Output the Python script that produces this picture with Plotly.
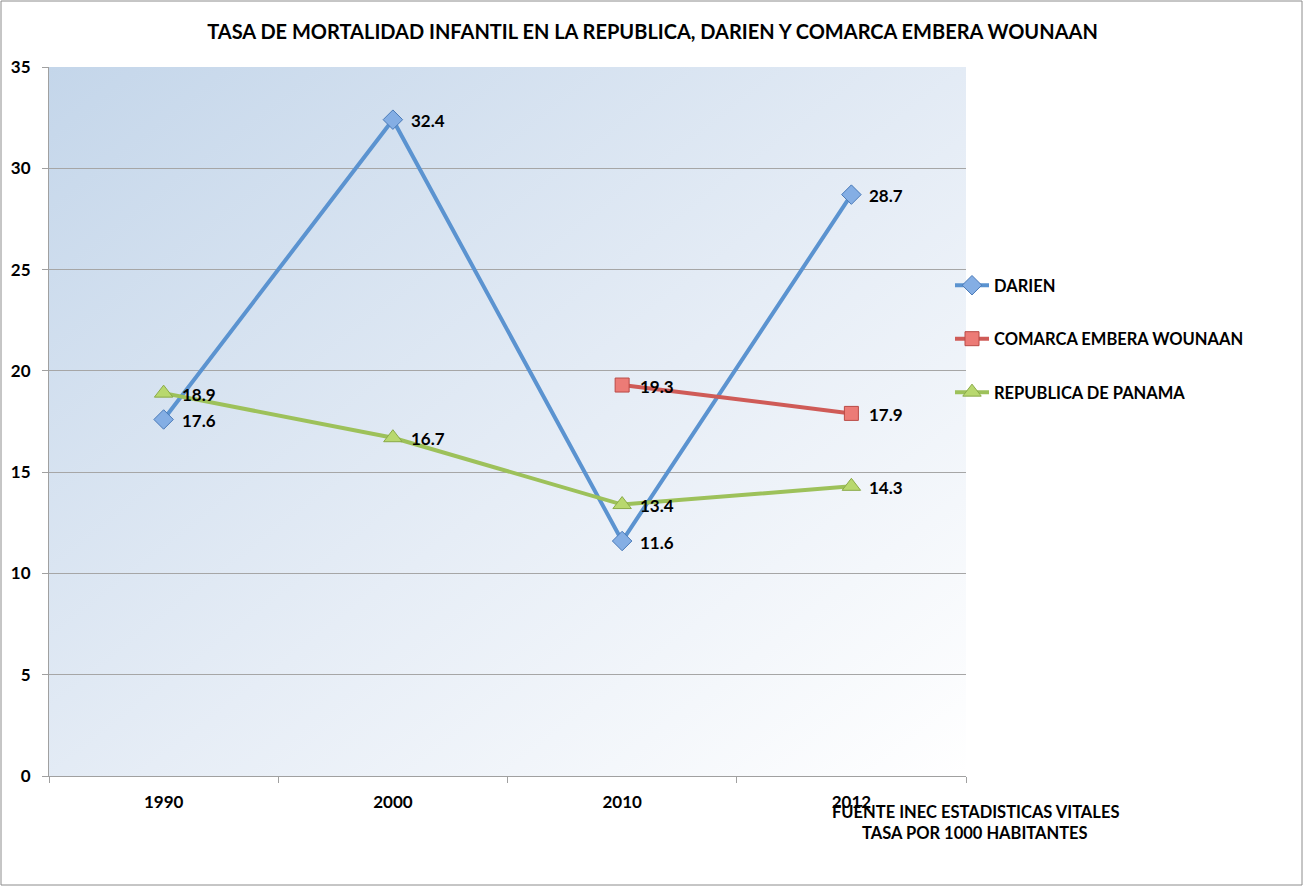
import plotly.graph_objects as go
import urllib.parse

years = ["1990", "2000", "2010", "2012"]
darien = [17.6, 32.4, 11.6, 28.7]
comarca = [None, None, 19.3, 17.9]
republica = [18.9, 16.7, 13.4, 14.3]
y_ticks = [0, 5, 10, 15, 20, 25, 30, 35]

FONT = "Lato, 'Open Sans', sans-serif"

fig = go.Figure()
series = [
    ("DARIEN", darien, "#5b93d0", "diamond", 15, "#84aee4", "#4a7ab8", "a"),
    ("COMARCA EMBERA WOUNAAN", comarca, "#cf5b57", "square", 14, "#ec7b76", "#b94a46", "b"),
    ("REPUBLICA DE PANAMA", republica, "#9dc15a", "triangle-up", 16, "#b8d86e", "#8aaa48", "c"),
]
annotations = []
for name, vals, lc, sym, ms, fc, bc, grp in series:
    fig.add_trace(go.Scatter(
        x=years, y=vals, name=name, mode="lines+markers",
        line=dict(color=lc, width=4),
        marker=dict(symbol=sym, size=ms, color=fc, line=dict(color=bc, width=1)),
        legendgroup=grp, connectgaps=False,
    ))
    for i, yv in enumerate(vals):
        if yv is None:
            continue
        annotations.append(dict(
            x=i, y=yv, xref="x", yref="y", text=f"<b>{yv:.1f}</b>", showarrow=False,
            xanchor="left", yanchor="middle", xshift=16, yshift=-1,
            font=dict(family=FONT, size=17, color="#000000"),
        ))

svg = ('<svg xmlns="http://www.w3.org/2000/svg" width="100" height="100" preserveAspectRatio="none">'
       '<defs><linearGradient id="g" x1="0" y1="0" x2="1" y2="1">'
       '<stop offset="0" stop-color="#c4d6ea"/><stop offset="0.55" stop-color="#e6edf6"/>'
       '<stop offset="1" stop-color="#ffffff"/></linearGradient></defs>'
       '<rect width="100" height="100" fill="url(#g)"/></svg>')
src = "data:image/svg+xml;charset=utf-8," + urllib.parse.quote(svg)

L, R, T, B = 49, 966, 67, 776
W, H = R - L, B - T
def px(x): return (x - L) / W
def py(y): return (B - y) / H

annotations += [
    dict(text="<b>FUENTE INEC ESTADISTICAS VITALES</b>", xref="paper", yref="paper",
         x=px(975), y=py(812), xanchor="center", yanchor="middle", showarrow=False,
         font=dict(family=FONT, size=16.5, color="#000000")),
    dict(text="<b>TASA POR 1000 HABITANTES</b>", xref="paper", yref="paper",
         x=px(975), y=py(833), xanchor="center", yanchor="middle", showarrow=False,
         font=dict(family=FONT, size=16.5, color="#000000")),
]

fig.update_layout(
    width=1305, height=889,
    margin=dict(l=L, r=1305 - R, t=T, b=889 - B, autoexpand=False),
    paper_bgcolor="#ffffff", plot_bgcolor="rgba(0,0,0,0)",
    font=dict(family=FONT, color="#000000"),
    title=dict(text="<b>TASA DE MORTALIDAD INFANTIL EN LA REPUBLICA, DARIEN Y COMARCA EMBERA WOUNAAN</b>",
               x=0.5, xanchor="center", y=1 - 32 / 889, yanchor="middle",
               font=dict(family=FONT, size=20, color="#000000")),
    images=[dict(source=src, xref="paper", yref="paper", x=0, y=1, sizex=1, sizey=1,
                 xanchor="left", yanchor="top", sizing="stretch", layer="below")],
    xaxis=dict(type="category", tickson="boundaries", ticks="outside", ticklen=6,
               tickcolor="#a0a0a0", showline=True, linecolor="#a0a0a0", linewidth=1,
               showgrid=False, tickfont=dict(family=FONT, size=17, weight="bold"),
               ticklabelstandoff=11, range=[-0.5, 3.5]),
    yaxis=dict(range=[0, 35], tickvals=y_ticks, ticks="outside", ticklen=6,
               tickcolor="#a0a0a0", showline=True, linecolor="#a0a0a0", linewidth=1,
               showgrid=True, gridcolor="#a6a6a6", gridwidth=1, zeroline=False,
               ticklabelstandoff=8,
               tickfont=dict(family=FONT, size=17, weight="bold")),
    legend=dict(x=px(950), xanchor="left", y=py(268), yanchor="top",
                bgcolor="rgba(0,0,0,0)", tracegroupgap=29, itemwidth=34,
                font=dict(family=FONT, size=16.5, color="#000000", weight="bold")),
    showlegend=True,
    shapes=[dict(type="rect", xref="paper", yref="paper",
                 x0=px(1), x1=px(1302), y0=py(885), y1=py(1),
                 line=dict(color="#8c8c8c", width=1), fillcolor="rgba(0,0,0,0)", layer="below")],
    annotations=annotations,
)

fig.write_html("out.html", post_script="document.body.style.margin='0px';",
               config={"displayModeBar": False})
